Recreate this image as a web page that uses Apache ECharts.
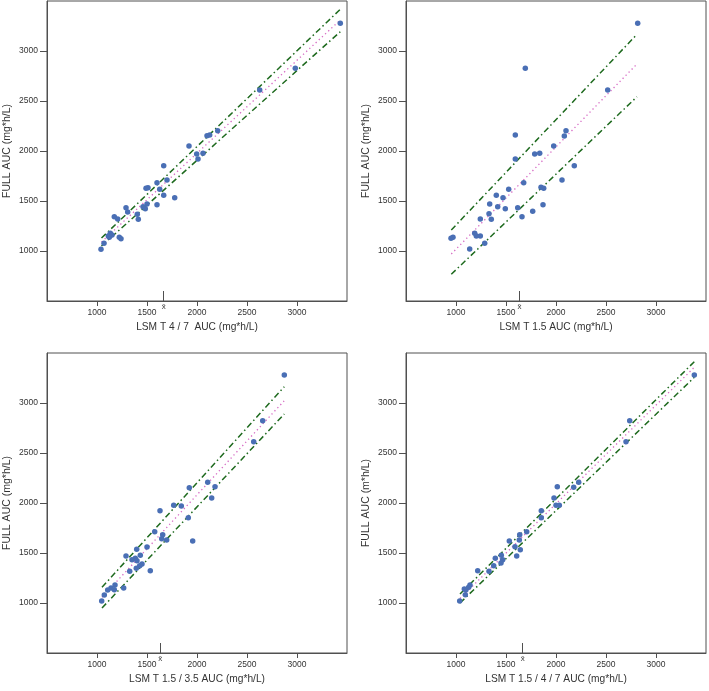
<!DOCTYPE html>
<html>
<head>
<meta charset="utf-8">
<script src="https://cdn.jsdelivr.net/npm/echarts@6/dist/echarts.min.js"></script>
<style>
html,body{margin:0;padding:0;background:#fff;}
#chart{width:709px;height:691px;}
</style>
</head>
<body>
<div id="chart"></div>
<script>
// ---- data ----
const tickValues = [1000, 1500, 2000, 2500, 3000];
const xTitles = ['LSM T 4 / 7  AUC (mg*h/L)', 'LSM T 1.5 AUC (mg*h/L)', 'LSM T 1.5 / 3.5 AUC (mg*h/L)', 'LSM T 1.5 / 4 / 7 AUC (mg*h/L)'];
const yTitles = ['FULL AUC (mg*h/L)', 'FULL AUC (mg*h/L)', 'FULL AUC (mg*h/L)', 'FULL AUC (m*h/L)'];
const xbarValues = [1667, 1634, 1633, 1667];

const p1X = [3433,2983,2627,2207,2127,2100,1920,1997,2060,2010,1667,1700,1600,1627,1510,1490,1667,1777,1500,1600,1460,1483,1290,1307,1403,1413,1173,1207,1133,1150,1113,1123,1223,1240,1070,1040];
const p1Y = [3277,2827,2610,2203,2160,2153,2050,1970,1977,1920,1853,1710,1683,1617,1633,1627,1557,1533,1470,1463,1443,1423,1433,1390,1367,1317,1343,1320,1177,1160,1150,1137,1137,1123,1077,1017];

const p2X = [2817,1693,2517,2100,2083,1593,1977,1787,1837,1593,2183,2060,1677,1527,1850,1877,1403,1470,1337,1870,1417,1493,1617,1767,1330,1353,1243,1660,1187,1203,1243,970,950,1287,1137];
const p2Y = [3277,2827,2610,2203,2150,2160,2050,1970,1977,1920,1853,1710,1683,1617,1637,1627,1557,1533,1470,1463,1443,1423,1433,1397,1373,1317,1320,1343,1177,1150,1150,1137,1127,1077,1020];

const p3X = [2873,2657,2567,2107,2180,1923,2147,1767,1843,1630,1913,1577,1657,1697,1647,1957,1500,1397,1290,1433,1383,1350,1400,1450,1427,1393,1327,1533,1180,1140,1173,1267,1107,1073,1047];
const p3Y = [3280,2823,2613,2207,2163,2153,2050,1977,1970,1923,1853,1713,1683,1630,1643,1620,1560,1537,1470,1477,1447,1433,1423,1390,1373,1347,1317,1323,1180,1150,1133,1150,1130,1080,1020];

const p4X = [3383,2737,2700,2227,2177,2013,1980,2000,2033,1853,1853,1707,1637,1633,1533,1590,1643,1607,1453,1393,1467,1450,1377,1330,1217,1140,1127,1100,1083,1093,1037];
const p4Y = [3280,2823,2613,2207,2157,2163,2050,1977,1977,1923,1853,1713,1683,1630,1620,1563,1533,1470,1477,1447,1433,1400,1373,1317,1323,1180,1157,1133,1140,1083,1020];

// line end points (x start/end, and y at those x) per panel
const lineX     = [[1045, 3433], [953, 2810], [1050, 2873], [1040, 3383]];
const fitY      = [[1090, 3310], [970, 2870], [1057, 3023], [1045, 3357]];
const upperY    = [[1130, 3417], [1210, 3167], [1157, 3163], [1090, 3413]];
const lowerY    = [[1050, 3193], [767, 2543], [950, 2890], [1000, 3257]];

const pointsX = [p1X, p2X, p3X, p4X];
const pointsY = [p1Y, p2Y, p3Y, p4Y];

// ---- layout ----
const grids = [
  {left: 47, top: 1, width: 300, height: 300},
  {left: 406, top: 1, width: 300, height: 300},
  {left: 47, top: 353, width: 300, height: 300},
  {left: 406, top: 353, width: 300, height: 300}
];
const FONT = 'Liberation Sans';
const textColor = '#333';
const frameColor = '#505050';
const green = '#1e6a1e';
const pink = '#d66ac4';
const dotColor = '#4a6fb5';
const plain = v => String(v);

const option = {
  backgroundColor: '#fff',
  animation: false,
  grid: grids.map(g => Object.assign({show: true, borderColor: frameColor, borderWidth: 1, containLabel: false}, g)),
  xAxis: [],
  yAxis: [],
  series: []
};

for (let i = 0; i < 4; i++) {
  option.xAxis.push({
    type: 'value', gridIndex: i, min: 500, max: 3500, interval: 500,
    name: xTitles[i], nameLocation: 'middle', nameGap: 21,
    nameTextStyle: {fontFamily: FONT, fontSize: 10.2, color: textColor},
    axisLine: {show: true, lineStyle: {color: frameColor}},
    axisTick: {show: true, length: 5, lineStyle: {color: frameColor}, customValues: tickValues},
    axisLabel: {show: true, margin: 7, fontFamily: FONT, fontSize: 8.5, color: textColor, customValues: tickValues, formatter: plain},
    splitLine: {show: false}
  });
  option.yAxis.push({
    type: 'value', gridIndex: i, min: 500, max: 3500, interval: 500,
    name: yTitles[i], nameLocation: 'middle', nameGap: 34, nameRotate: 90,
    nameTextStyle: {fontFamily: FONT, fontSize: 10.5, color: textColor},
    axisLine: {show: true, lineStyle: {color: frameColor}},
    axisTick: {show: true, length: 7, lineStyle: {color: frameColor}, customValues: tickValues},
    axisLabel: {show: true, margin: 9, fontFamily: FONT, fontSize: 8.5, color: textColor, customValues: tickValues, formatter: plain},
    splitLine: {show: false}
  });
}
// x-bar marker axes
for (let i = 0; i < 4; i++) {
  option.xAxis.push({
    type: 'value', gridIndex: i, min: 500, max: 3500, position: 'bottom',
    axisLine: {show: false},
    axisTick: {show: true, inside: true, length: 10, lineStyle: {color: frameColor}, customValues: [xbarValues[i]]},
    axisLabel: {show: true, margin: 2, fontFamily: FONT, fontSize: 8, color: textColor,
      customValues: [xbarValues[i]], formatter: () => 'x\u0304'},
    splitLine: {show: false}
  });
}

for (let i = 0; i < 4; i++) {
  const pts = pointsX[i].map((x, k) => [x, pointsY[i][k]]);
  const mk = (ys) => lineX[i].map((x, k) => [x, ys[k]]);
  option.series.push({
    type: 'line', xAxisIndex: i, yAxisIndex: i, data: mk(upperY[i]), symbol: 'none', silent: true,
    lineStyle: {color: green, width: 1.5, type: [6, 3, 1.5, 3]}, z: 2
  });
  option.series.push({
    type: 'line', xAxisIndex: i, yAxisIndex: i, data: mk(lowerY[i]), symbol: 'none', silent: true,
    lineStyle: {color: green, width: 1.5, type: [6, 3, 1.5, 3]}, z: 2
  });
  option.series.push({
    type: 'line', xAxisIndex: i, yAxisIndex: i, data: mk(fitY[i]), symbol: 'none', silent: true,
    lineStyle: {color: pink, width: 1.3, type: [1.3, 3]}, z: 2
  });
  option.series.push({
    type: 'scatter', xAxisIndex: i, yAxisIndex: i, data: pts, symbol: 'circle', symbolSize: 5.5,
    itemStyle: {color: dotColor, opacity: 1}, z: 3
  });
}

const chart = echarts.init(document.getElementById('chart'), null, {renderer: 'canvas'});
chart.setOption(option);
</script>
</body>
</html>
